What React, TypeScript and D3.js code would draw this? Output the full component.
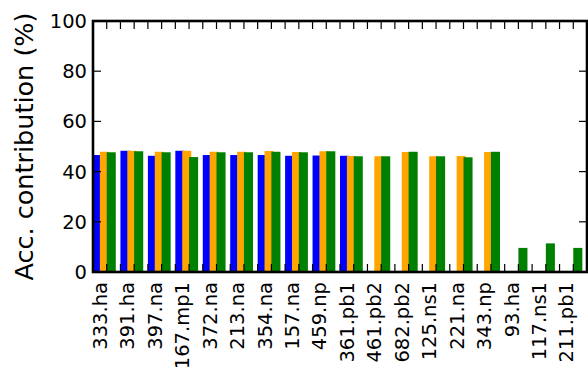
import React from "react";
import * as d3 from "d3";

const categories = ["333.ha","391.ha","397.na","167.mp1","372.na","213.na","354.na","157.na","459.np","361.pb1","461.pb2","682.pb2","125.ns1","221.na","343.np","93.ha","117.ns1","211.pb1"];
const blueValues = [46.6,48.3,46.3,48.3,46.6,46.6,46.6,46.3,46.4,46.3,0,0,0,0,0,0,0,0];
const orangeValues = [47.9,48.3,47.9,48.3,47.9,47.9,48.2,47.8,48.1,46.2,46.1,47.8,46.1,46.2,47.8,0,0,0];
const greenValues = [47.7,48.1,47.7,45.8,47.7,47.7,47.9,47.7,48.1,46.1,46.1,47.9,46.1,45.7,47.9,9.6,11.4,9.6];
const yTicks = [0, 20, 40, 60, 80, 100];
const yLabel = "Acc. contribution (%)";

const series = [
  { values: blueValues, color: "#0000ff", offset: 0 },
  { values: orangeValues, color: "#ffa500", offset: 0.25 },
  { values: greenValues, color: "#008000", offset: 0.5 },
];

export default function App() {
  const W = 588, H = 369;
  const left = 93, right = 587, top = 21, bottom = 272;
  const x = d3.scaleLinear().domain([0, categories.length]).range([left, right]);
  const y = d3.scaleLinear().domain([0, 100]).range([bottom, top]);
  const barW = 0.33;
  const font = "DejaVu Sans";
  const minorTicks = d3.range(1, categories.length * 2).map((k) => k * 0.5);
  const tickLen = 8;

  return (
    <svg width={W} height={H} style={{ position: "absolute", left: 0, top: 0 }} fontFamily={font}>
      <rect x={0} y={0} width={W} height={H} fill="#fff" />
      {series.map((s, si) =>
        s.values.map((v, i) => {
          if (v <= 0) return null;
          const x0 = x(i + s.offset);
          const x1 = x(i + s.offset + barW);
          return (
            <rect key={si + "-" + i} x={x0} y={y(v)} width={x1 - x0} height={y(0) - y(v)} fill={s.color} />
          );
        })
      )}
      {/* x ticks top and bottom */}
      {minorTicks.map((t) => (
        <g key={"xt" + t} stroke="#000" strokeWidth={1.2}>
          <line x1={x(t)} x2={x(t)} y1={bottom} y2={bottom - tickLen} />
          <line x1={x(t)} x2={x(t)} y1={top} y2={top + tickLen} />
        </g>
      ))}
      {/* y ticks left and right */}
      {yTicks.map((t) => (
        <g key={"yt" + t}>
          <line x1={left} x2={left + tickLen} y1={y(t)} y2={y(t)} stroke="#000" strokeWidth={1.2} />
          <line x1={right} x2={right - tickLen} y1={y(t)} y2={y(t)} stroke="#000" strokeWidth={1.2} />
          <text x={87} y={y(t)} dy="0.36em" textAnchor="end" fontSize={19.5} fill="#000">{t}</text>
        </g>
      ))}
      {/* spines */}
      <rect x={left} y={top} width={right - left} height={bottom - top} fill="none" stroke="#000" strokeWidth={2.6} />
      {/* x labels */}
      {categories.map((c, i) => {
        const cx = x(i + 0.25);
        return (
          <text key={c} transform={`translate(${cx},282) rotate(-90)`} dy="0.36em" textAnchor="end" fontSize={19.5} fill="#000">{c}</text>
        );
      })}
      <text transform={`translate(33,${(top + bottom) / 2}) rotate(-90)`} textAnchor="middle" fontSize={25.5} fill="#000">{yLabel}</text>
    </svg>
  );
}
